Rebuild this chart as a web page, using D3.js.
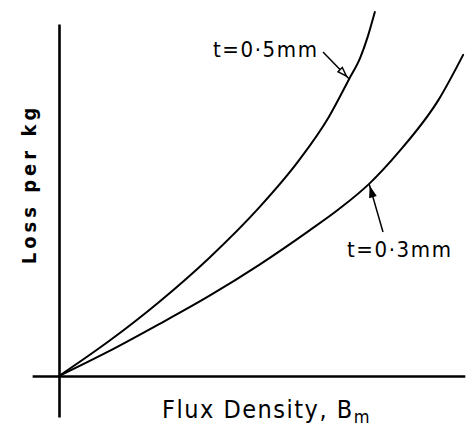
<!DOCTYPE html>
<html>
<head>
<meta charset="utf-8">
<script src="https://cdn.jsdelivr.net/npm/d3@7"></script>
<style>
  html, body { margin: 0; padding: 0; background: #fff; }
  svg { display: block; }
  .lbl { font-family: "Liberation Sans Narrow", "DejaVu Sans Condensed", "Liberation Sans", sans-serif; fill: #000; }
</style>
</head>
<body>
<svg id="chart" width="466" height="427"></svg>
<script>
// Core loss per kg against peak flux density for two lamination thicknesses
// (arbitrary units on both axes).
const fluxDensity05 = [0, 1.23, 2.46, 3.69, 4.91, 5.90, 6.63, 7.13, 7.40, 7.59, 7.76];
const loss05        = [0, 0.93, 1.97, 3.14, 4.47, 5.74, 6.89, 7.90, 8.46, 9.04, 9.68];

const fluxDensity03 = [0, 1.23, 2.46, 3.69, 4.91, 6.14, 6.88, 7.62, 8.35, 9.34, 9.93];
const loss03        = [0, 0.66, 1.38, 2.13, 2.95, 3.86, 4.44, 5.11, 5.96, 7.37, 8.54];

const seriesLabels = ["t=0·5mm", "t=0·3mm"];
// index of the point on each curve that the label's leader touches
const leaderPoint = [7, 7];

const xAxisTitle = "Flux Density, B";
const xAxisSub = "m";
const yAxisTitle = "Loss per kg";

const svg = d3.select("#chart");

const x = d3.scaleLinear().domain([0, 10]).range([59, 466]);
const y = d3.scaleLinear().domain([0, 10]).range([376, 0]);

// axes: plain lines without ticks, running slightly past the origin
const xSpan = [-0.66, 9.97];
const ySpan = [-1.09, 9.36];

svg.append("g")
  .attr("transform", `translate(0,${y(0)})`)
  .call(d3.axisBottom(d3.scaleLinear().domain(xSpan).range(xSpan.map(x))).tickValues([]).tickSizeOuter(0))
  .call(g => g.select(".domain").attr("stroke", "#000").attr("stroke-width", 2.6));

svg.append("g")
  .attr("transform", `translate(${x(0)},0)`)
  .call(d3.axisLeft(d3.scaleLinear().domain(ySpan).range(ySpan.map(y))).tickValues([]).tickSizeOuter(0))
  .call(g => g.select(".domain").attr("stroke", "#000").attr("stroke-width", 2.6));

const line = d3.line()
  .x(d => x(d[0]))
  .y(d => y(d[1]))
  .curve(d3.curveMonotoneX);

const curves = [
  d3.zip(fluxDensity05, loss05),
  d3.zip(fluxDensity03, loss03)
];

svg.selectAll("path.curve")
  .data(curves)
  .join("path")
  .attr("class", "curve")
  .attr("d", line)
  .attr("fill", "none")
  .attr("stroke", "#000")
  .attr("stroke-width", 2)
  .attr("stroke-linecap", "round");

// series labels with leader lines down to their curves
const labelPos = [
  { tx: 213, ty: 57, lx: 323, ly: 52 },
  { tx: 347, ty: 257, lx: 383, ly: 232 }
];

curves.forEach((c, i) => {
  const p = c[leaderPoint[i]];
  const ax = x(p[0]), ay = y(p[1]);
  const lp = labelPos[i];
  svg.append("line")
    .attr("x1", lp.lx).attr("y1", lp.ly)
    .attr("x2", ax).attr("y2", ay)
    .attr("stroke", "#000").attr("stroke-width", 1.5);
  // small arrow head near the curve
  const ang = Math.atan2(ay - lp.ly, ax - lp.lx);
  const hx = ax - Math.cos(ang) * 4, hy = ay - Math.sin(ang) * 4;
  const len = 9, w = 3;
  const bx = hx - Math.cos(ang) * len, by = hy - Math.sin(ang) * len;
  svg.append("path")
    .attr("d", `M${hx},${hy}L${bx - Math.sin(ang) * w},${by + Math.cos(ang) * w}L${bx + Math.sin(ang) * w},${by - Math.cos(ang) * w}Z`)
    .attr("fill", i === 0 ? "#fff" : "#000")
    .attr("stroke", "#000").attr("stroke-width", 1.4);

  svg.append("text")
    .attr("class", "lbl")
    .attr("x", lp.tx).attr("y", lp.ty)
    .attr("font-size", 22)
    .attr("letter-spacing", 1.6)
    .text(seriesLabels[i]);
});

// axis titles
const xt = svg.append("text")
  .attr("class", "lbl")
  .attr("x", 162).attr("y", 418)
  .attr("font-size", 25)
  .attr("letter-spacing", 1.5)
  .text(xAxisTitle);
xt.append("tspan")
  .attr("dy", 5)
  .attr("font-size", 18)
  .text(xAxisSub);

svg.append("text")
  .attr("class", "lbl")
  .attr("transform", "translate(36,184) rotate(-90)")
  .attr("text-anchor", "middle")
  .attr("font-size", 20)
  .attr("font-weight", "bold")
  .attr("letter-spacing", 4)
  .text(yAxisTitle);
</script>
</body>
</html>
